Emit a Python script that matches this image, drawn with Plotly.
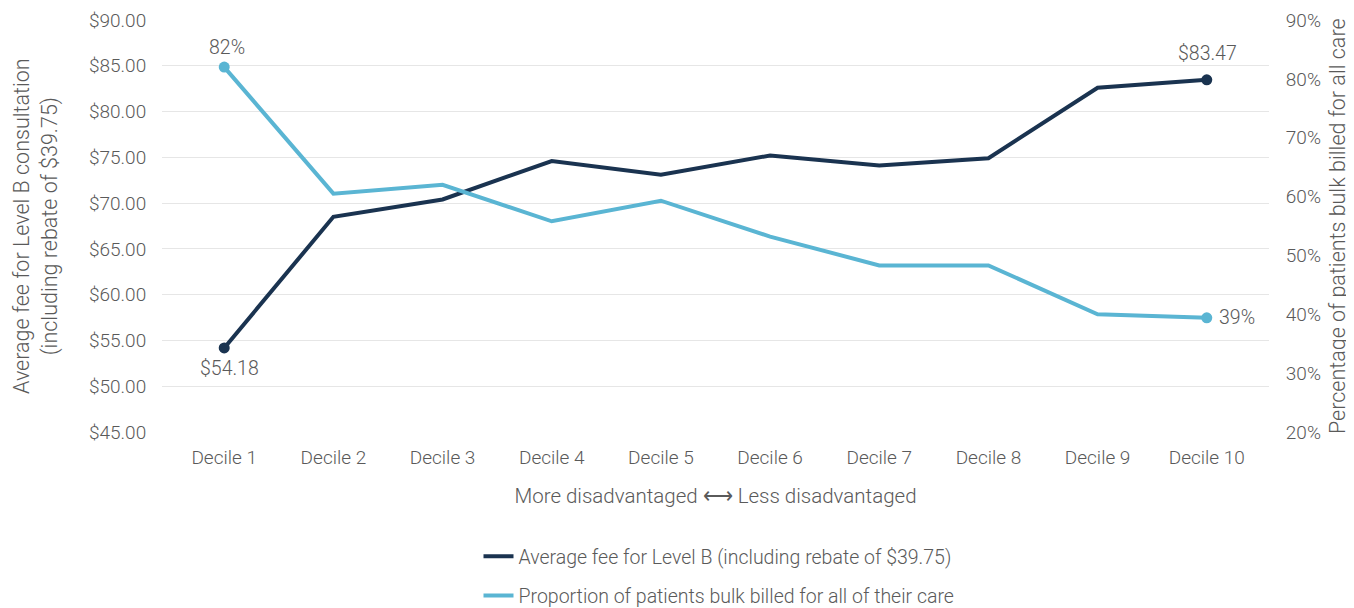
import plotly.graph_objects as go
from plotly.subplots import make_subplots

deciles = ["Decile 1", "Decile 2", "Decile 3", "Decile 4", "Decile 5",
           "Decile 6", "Decile 7", "Decile 8", "Decile 9", "Decile 10"]
avg_fee = [54.18, 68.5, 70.4, 74.6, 73.1, 75.2, 74.1, 74.9, 82.6, 83.47]
bulk_billed = [82, 60.5, 62.0, 55.8, 59.3, 53.2, 48.3, 48.3, 40.0, 39.4]
fee_labels = ["$54.18", "", "", "", "", "", "", "", "", "$83.47"]
bb_labels = ["82%", "", "", "", "", "", "", "", "", "39%"]

DARK = "#1a3350"
LIGHT = "#5ab5d3"
GREY = "#5a5a5a"
FONT = dict(family="Roboto", color=GREY, weight=300)

# figure sits at (8, 8) inside the page because of the body margin
W, H = 1346, 600
L, R, T, B = 154, 85, 12, 176
PW = W - L - R
PH = H - T - B

first, last = 0, len(deciles) - 1

fig = make_subplots(specs=[[{"secondary_y": True}]])

fig.add_trace(
    go.Scatter(
        x=deciles, y=avg_fee,
        name="Average fee for Level B (including rebate of $39.75)",
        mode="lines", line=dict(color=DARK, width=4),
        legendgroup="fee",
    ),
    secondary_y=False,
)
fig.add_trace(
    go.Scatter(
        x=deciles, y=bulk_billed,
        name="Proportion of patients bulk billed for all of their care",
        mode="lines", line=dict(color=LIGHT, width=4),
        legendgroup="bb",
    ),
    secondary_y=True,
)

# end markers
fig.add_trace(
    go.Scatter(
        x=[deciles[first], deciles[last]], y=[avg_fee[first], avg_fee[last]],
        mode="markers", marker=dict(size=11, color=DARK), showlegend=False,
    ),
    secondary_y=False,
)
fig.add_trace(
    go.Scatter(
        x=[deciles[first], deciles[last]], y=[bulk_billed[first], bulk_billed[last]],
        mode="markers", marker=dict(size=11, color=LIGHT), showlegend=False,
    ),
    secondary_y=True,
)

# end labels
lab_font = dict(FONT, size=19.5)
fig.add_annotation(x=deciles[first], y=avg_fee[first], yref="y", text=fee_labels[first],
                   showarrow=False, xshift=5, yshift=-21, font=lab_font)
fig.add_annotation(x=deciles[last], y=avg_fee[last], yref="y", text=fee_labels[last],
                   showarrow=False, xshift=1, yshift=26, font=lab_font)
fig.add_annotation(x=deciles[first], y=bulk_billed[first], yref="y2", text=bb_labels[first],
                   showarrow=False, xshift=3, yshift=20, font=lab_font)
fig.add_annotation(x=deciles[last], y=bulk_billed[last], yref="y2", text=bb_labels[last],
                   showarrow=False, xshift=30, yshift=0, font=lab_font)

fig.update_xaxes(
    domain=[0, 1],
    title_text="More disadvantaged ⟷ Less disadvantaged",
    title_font=dict(FONT, size=20.5),
    title_standoff=20,
    tickfont=dict(FONT, size=19), tickangle=0,
    showgrid=False, showline=False, zeroline=False, automargin=False,
    ticks="outside", ticklen=8, tickcolor="rgba(0,0,0,0)",
)
fig.update_yaxes(
    range=[45, 90], dtick=5, tickformat="$.2f",
    tickfont=dict(FONT, size=19),
    showgrid=True, gridcolor="#e6e6e6", gridwidth=1, zeroline=False,
    automargin=False,
    ticks="outside", ticklen=11, tickcolor="rgba(0,0,0,0)",
    secondary_y=False,
)
fig.update_yaxes(
    range=[20, 90], dtick=10, ticksuffix="%",
    tickfont=dict(FONT, size=19),
    showgrid=False, zeroline=False, automargin=False,
    ticks="outside", ticklen=12, tickcolor="rgba(0,0,0,0)",
    secondary_y=True,
)

# axis titles placed as annotations
fig.add_annotation(
    text="Average fee for Level B consultation<br>(including rebate of $39.75)",
    xref="paper", yref="paper", x=(28 - L) / PW, y=0.5,
    xanchor="center", yanchor="middle",
    textangle=-90, showarrow=False, font=dict(FONT, size=21.5),
)
fig.add_annotation(
    text="Percentage of patients bulk billed for all care",
    xref="paper", yref="paper", x=(1329 - L) / PW, y=0.5,
    xanchor="center", yanchor="middle",
    textangle=-90, showarrow=False, font=dict(FONT, size=21.5),
)

fig.update_layout(
    width=W, height=H,
    margin=dict(l=L, r=R, t=T, b=B, autoexpand=False),
    paper_bgcolor="white", plot_bgcolor="white",
    font=FONT,
    legend=dict(
        orientation="v",
        x=(711 - L) / PW, xanchor="center",
        y=(T + PH - 529) / PH, yanchor="top",
        font=dict(FONT, size=19.5),
        tracegroupgap=11,
    ),
)

fig.write_html("out.html")
